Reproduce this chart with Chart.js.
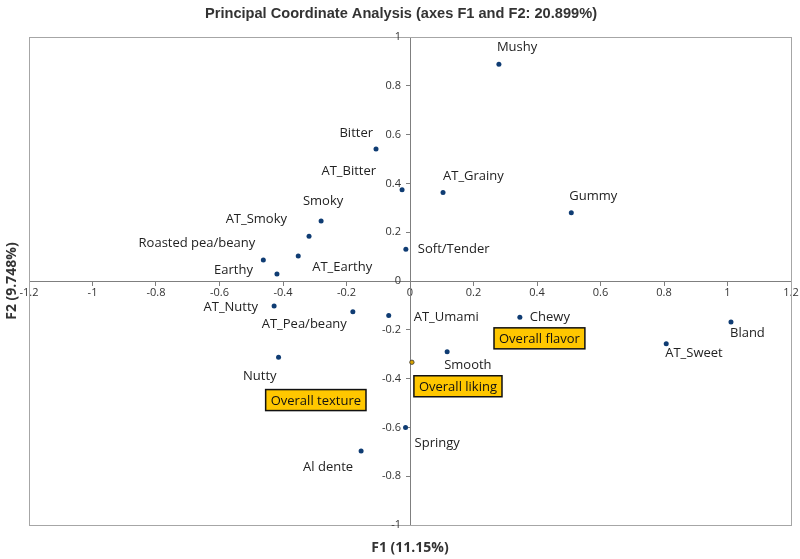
<!DOCTYPE html>
<html>
<head>
<meta charset="utf-8">
<script src="https://cdn.jsdelivr.net/npm/chart.js@4.4.1/dist/chart.umd.min.js"></script>
<style>
  html, body { margin: 0; padding: 0; background: #fff; }
  #wrap { width: 800px; height: 559px; }
</style>
</head>
<body>
<div id="wrap"><canvas id="pcoa" width="800" height="559"></canvas></div>
<script>
// attribute names and their coordinates on F1 / F2
var names = ["Mushy", "Bitter", "AT_Bitter", "AT_Grainy", "Gummy", "Smoky", "AT_Smoky",
  "Roasted pea/beany", "Soft/Tender", "AT_Earthy", "Earthy", "AT_Nutty", "AT_Pea/beany",
  "AT_Umami", "Chewy", "Bland", "AT_Sweet", "Smooth", "Nutty", "Springy", "Al dente"];
var f1 = [0.280, -0.107, -0.025, 0.104, 0.508, -0.280, -0.318,
  -0.462, -0.013, -0.352, -0.419, -0.428, -0.180,
  -0.067, 0.346, 1.011, 0.807, 0.117, -0.414, -0.014, -0.154];
var f2 = [0.888, 0.541, 0.374, 0.363, 0.280, 0.246, 0.183,
  0.086, 0.130, 0.102, 0.029, -0.102, -0.126,
  -0.141, -0.149, -0.168, -0.257, -0.290, -0.313, -0.600, -0.697];

// supplementary (overall) variables
var supNames = ["Overall liking", "Overall flavor", "Overall texture"];
var supF1 = [0.006, 0.400, -0.294];
var supF2 = [-0.333, -0.235, -0.488];

var xTicks = [-1.2, -1, -0.8, -0.6, -0.4, -0.2, 0, 0.2, 0.4, 0.6, 0.8, 1, 1.2];
var yTicks = [-1, -0.8, -0.6, -0.4, -0.2, 0, 0.2, 0.4, 0.6, 0.8, 1];

// label placement: [align, dx, dy] relative to the point
var labelPos = {
  "Mushy": ["left", -2, -17], "Bitter": ["right", -3, -16], "AT_Bitter": ["right", -26, -18],
  "AT_Grainy": ["left", 0, -16], "Gummy": ["left", -2, -16], "Smoky": ["center", 2, -20],
  "AT_Smoky": ["right", -22, -17], "Roasted pea/beany": ["right", -8, -17],
  "Soft/Tender": ["left", 12, 0], "AT_Earthy": ["left", 14, 11], "Earthy": ["right", -24, -4],
  "AT_Nutty": ["right", -16, 1], "AT_Pea/beany": ["right", -6, 13], "AT_Umami": ["left", 25, 2],
  "Chewy": ["left", 10, 0], "Bland": ["left", -1, 11], "AT_Sweet": ["left", -1, 10],
  "Smooth": ["left", -3, 14], "Nutty": ["right", -2, 19], "Springy": ["left", 9, 16],
  "Al dente": ["right", -8, 16]
};
var boxPos = { "Overall liking": [2, 24], "Overall flavor": [-43, 0], "Overall texture": [-51, 0] };

var pts = names.map(function (n, i) { return { x: f1[i], y: f2[i] }; });
var supPts = supNames.map(function (n, i) { return { x: supF1[i], y: supF2[i] }; });

var labelFont = "13px 'Open Sans'";
var tickFont = "11px 'Open Sans'";

function fmt(v) { return String(+v.toFixed(1)); }

var decor = {
  id: 'decor',
  beforeDatasetsDraw: function (chart) {
    var a = chart.chartArea, ctx = chart.ctx;
    ctx.save();
    ctx.strokeStyle = '#a6a6a6';
    ctx.lineWidth = 1;
    ctx.strokeRect(a.left + 0.5, a.top + 0.5, a.right - a.left, a.bottom - a.top);
    ctx.restore();
  },
  afterDraw: function (chart) {
    var ctx = chart.ctx, a = chart.chartArea;
    var xs = chart.scales.x, ys = chart.scales.y;
    var x0 = xs.getPixelForValue(0);
    ctx.save();
    // y tick labels, left of the vertical axis
    ctx.fillStyle = '#333';
    ctx.font = tickFont;
    ctx.textAlign = 'right';
    ctx.textBaseline = 'middle';
    yTicks.forEach(function (v) {
      ctx.fillText(fmt(v), x0 - 9, ys.getPixelForValue(v));
    });
    // point labels
    ctx.fillStyle = '#222';
    ctx.font = labelFont;
    names.forEach(function (n, i) {
      var p = labelPos[n];
      ctx.textAlign = p[0];
      ctx.fillText(n, xs.getPixelForValue(f1[i]) + p[1], ys.getPixelForValue(f2[i]) + p[2]);
    });
    // boxed overall labels
    supNames.forEach(function (n, i) {
      var b = boxPos[n];
      var w = ctx.measureText(n).width + 10, h = 21;
      var bx = xs.getPixelForValue(supF1[i]) + b[0];
      var by = ys.getPixelForValue(supF2[i]) + b[1] - h / 2;
      ctx.fillStyle = '#ffc700';
      ctx.fillRect(bx, by, w, h);
      ctx.strokeStyle = '#111';
      ctx.lineWidth = 1.5;
      ctx.strokeRect(bx, by, w, h);
      ctx.fillStyle = '#111';
      ctx.textAlign = 'left';
      ctx.fillText(n, bx + 5, by + h / 2 + 1);
    });
    // titles
    ctx.fillStyle = '#333';
    ctx.textAlign = 'center';
    var title = 'Principal Coordinate Analysis (axes F1 and F2: 20.899%)';
    ctx.font = "bold 15px 'Liberation Sans'";
    var tw = ctx.measureText(title).width;
    ctx.save();
    ctx.translate(401, 14);
    ctx.scale(Math.min(1, 392 / tw), 1);
    ctx.fillText(title, 0, 0);
    ctx.restore();
    ctx.font = "bold 14px 'Open Sans'";
    ctx.fillText('F1 (11.15%)', (a.left + a.right) / 2, 548);
    ctx.translate(12, (a.top + a.bottom) / 2);
    ctx.rotate(-Math.PI / 2);
    ctx.fillText('F2 (9.748%)', 0, 0);
    ctx.restore();
  }
};

new Chart(document.getElementById('pcoa').getContext('2d'), {
  type: 'scatter',
  data: {
    datasets: [{
      data: pts,
      pointRadius: 2.5,
      pointBackgroundColor: '#0f3c73',
      pointBorderColor: '#0f3c73',
      pointBorderWidth: 0
    }, {
      data: supPts,
      pointRadius: 2.2,
      pointBackgroundColor: '#d9a300',
      pointBorderColor: '#333',
      pointBorderWidth: 0.8
    }]
  },
  options: {
    responsive: false,
    animation: false,
    layout: { padding: { left: 29, right: 9, top: 37, bottom: 34 } },
    plugins: { legend: { display: false }, tooltip: { enabled: false } },
    scales: {
      x: {
        type: 'linear',
        min: -1.2, max: 1.2,
        position: { y: 0 },
        afterBuildTicks: function (s) { s.ticks = xTicks.map(function (v) { return { value: v }; }); },
        grid: { drawOnChartArea: false, tickLength: 4, color: '#7f7f7f' },
        border: { color: '#7f7f7f' },
        ticks: {
          autoSkip: false, maxRotation: 0, padding: 1,
          color: '#333', font: { family: 'Open Sans', size: 11 },
          callback: function (v) { return fmt(v); }
        }
      },
      y: {
        type: 'linear',
        min: -1, max: 1,
        position: { x: 0 },
        afterBuildTicks: function (s) { s.ticks = yTicks.map(function (v) { return { value: v }; }); },
        grid: { drawOnChartArea: false, tickLength: 4, color: '#7f7f7f' },
        border: { color: '#7f7f7f' },
        ticks: { display: false }
      }
    }
  },
  plugins: [decor]
});
</script>
</body>
</html>
